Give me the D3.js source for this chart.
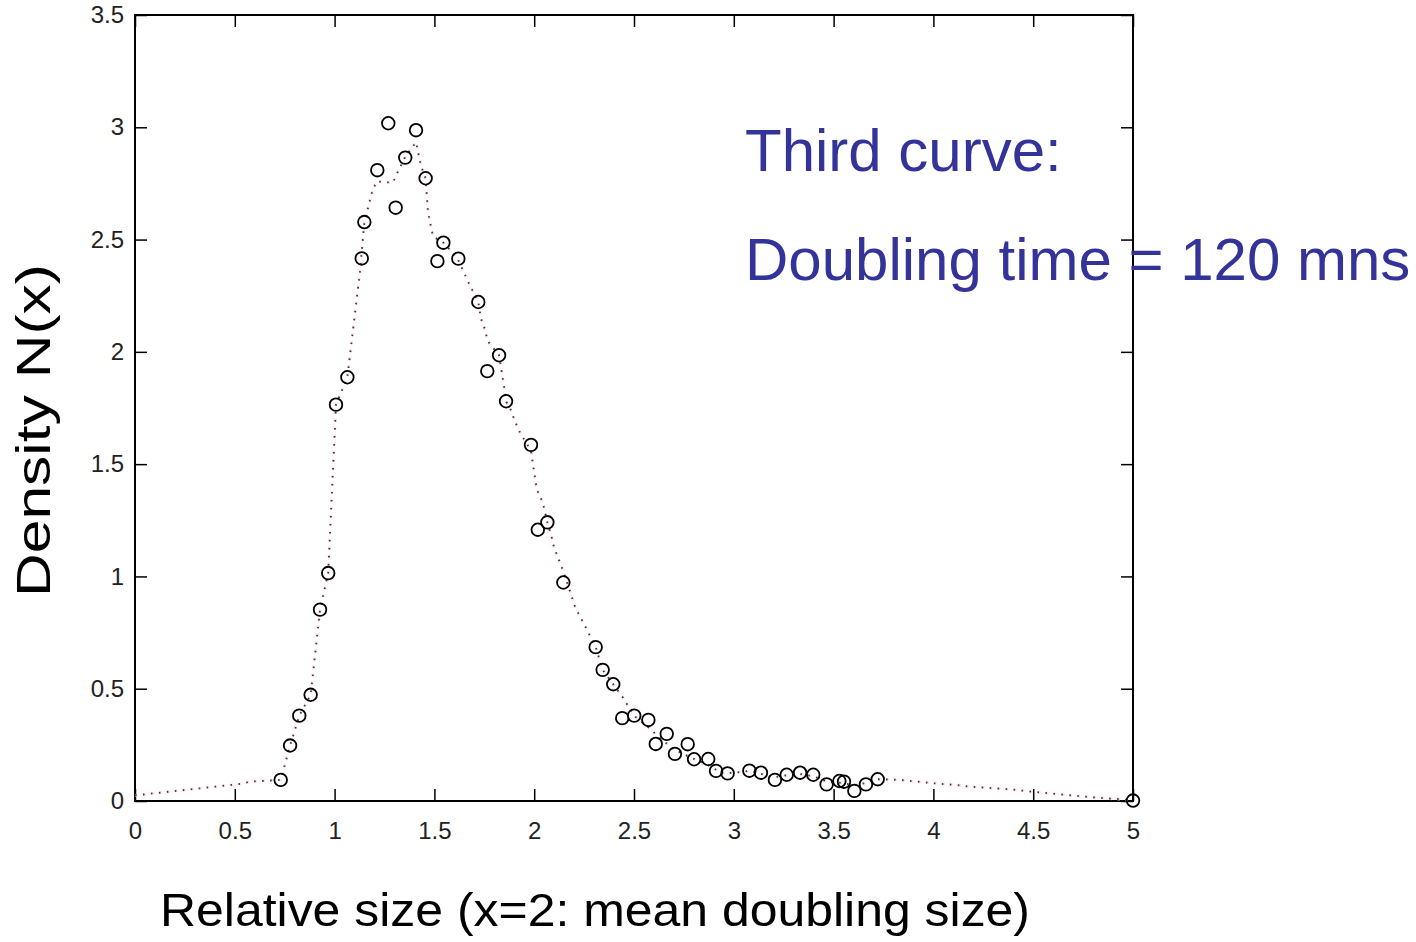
<!DOCTYPE html>
<html>
<head>
<meta charset="utf-8">
<script src="https://cdn.jsdelivr.net/npm/d3@7"></script>
<style>
  html, body { margin: 0; padding: 0; background: #fff; }
  svg { display: block; }
</style>
</head>
<body>
<svg id="chart" width="1416" height="942"></svg>
<script>
// Measured size distribution (open circles)
const sizeX = [0.73, 0.777, 0.823, 0.880, 0.927, 0.968, 1.007, 1.064, 1.136, 1.149,
  1.214, 1.269, 1.306, 1.354, 1.408, 1.456, 1.515, 1.545, 1.620, 1.720,
  1.765, 1.824, 1.859, 1.984, 2.018, 2.066, 2.146, 2.308, 2.343, 2.396,
  2.441, 2.501, 2.572, 2.609, 2.664, 2.705, 2.769, 2.801, 2.872, 2.911,
  2.969, 3.078, 3.136, 3.206, 3.265, 3.332, 3.398, 3.465, 3.529, 3.552,
  3.604, 3.662, 3.721, 5.0];
const density = [0.094, 0.247, 0.380, 0.473, 0.852, 1.015, 1.765, 1.887, 2.416, 2.578,
  2.809, 3.018, 2.642, 2.865, 2.987, 2.773, 2.404, 2.486, 2.415, 2.222,
  1.914, 1.985, 1.780, 1.586, 1.208, 1.241, 0.973, 0.685, 0.584, 0.520,
  0.369, 0.380, 0.361, 0.254, 0.299, 0.210, 0.253, 0.186, 0.187, 0.134,
  0.123, 0.135, 0.126, 0.094, 0.117, 0.126, 0.117, 0.074, 0.089, 0.086,
  0.045, 0.074, 0.097, 0.002];

// Smoothed density curve (dotted line)
const curveX = [0, 0.526, 0.576, 0.73, 0.777, 0.823, 0.880, 0.927, 0.968, 1.007,
  1.064, 1.110, 1.127, 1.149, 1.190, 1.212, 1.250, 1.293, 1.318, 1.353,
  1.408, 1.433, 1.456, 1.468, 1.493, 1.545, 1.613, 1.673, 1.720, 1.733,
  1.753, 1.767, 1.824, 1.850, 1.859, 1.882, 1.904, 1.929, 1.984, 2.013,
  2.043, 2.066, 2.087, 2.100, 2.124, 2.146, 2.184, 2.204, 2.229, 2.263,
  2.308, 2.343, 2.396, 2.445, 2.500, 2.570, 2.630, 2.700, 2.770, 2.870,
  2.940, 3.000, 3.080, 3.140, 3.200, 3.270, 3.330, 3.400, 3.470, 3.550,
  3.600, 3.660, 3.720, 3.833, 4.000, 4.117, 4.183, 4.383, 4.500, 4.634,
  4.800, 4.935, 5.0];
const curveY = [0.025, 0.076, 0.086, 0.094, 0.247, 0.380, 0.473, 0.852, 1.015, 1.765,
  1.887, 2.230, 2.354, 2.577, 2.720, 2.760, 2.755, 2.755, 2.804, 2.867,
  2.934, 2.827, 2.773, 2.621, 2.514, 2.486, 2.421, 2.305, 2.222, 2.149,
  2.100, 2.048, 1.985, 1.841, 1.780, 1.743, 1.690, 1.640, 1.560, 1.387,
  1.329, 1.241, 1.178, 1.127, 1.074, 1.022, 0.921, 0.866, 0.822, 0.765,
  0.686, 0.584, 0.520, 0.460, 0.380, 0.330, 0.280, 0.230, 0.200, 0.160,
  0.125, 0.125, 0.135, 0.120, 0.105, 0.115, 0.120, 0.110, 0.085, 0.080,
  0.070, 0.080, 0.097, 0.094, 0.079, 0.071, 0.064, 0.052, 0.041, 0.030,
  0.016, 0.008, 0.002];

const xTicks = [0, 0.5, 1, 1.5, 2, 2.5, 3, 3.5, 4, 4.5, 5];
const xTickLabels = ["0", "0.5", "1", "1.5", "2", "2.5", "3", "3.5", "4", "4.5", "5"];
const yTicks = [0, 0.5, 1, 1.5, 2, 2.5, 3, 3.5];
const yTickLabels = ["0", "0.5", "1", "1.5", "2", "2.5", "3", "3.5"];

const svg = d3.select("#chart");
const plotLeft = 135, plotRight = 1133, plotTop = 15, plotBottom = 801;

const x = d3.scaleLinear().domain([0, 5]).range([plotLeft, plotRight]);
const y = d3.scaleLinear().domain([0, 3.5]).range([plotBottom, plotTop]);

const tickFont = "'Liberation Sans Narrow', 'Liberation Sans', Arial, sans-serif";

function styleAxis(g) {
  g.select(".domain").remove();
  g.selectAll(".tick line").attr("stroke", "#000").attr("stroke-width", 1.5);
  g.selectAll(".tick text")
    .attr("fill", "#222")
    .style("font-family", tickFont)
    .style("font-size", "24px");
}

// bottom axis with labels
svg.append("g")
  .attr("transform", `translate(0,${plotBottom})`)
  .call(d3.axisBottom(x).tickValues(xTicks)
    .tickFormat((d, i) => xTickLabels[i])
    .tickSizeInner(-12).tickSizeOuter(0).tickPadding(21))
  .call(styleAxis);

// top axis (ticks only)
svg.append("g")
  .attr("transform", `translate(0,${plotTop})`)
  .call(d3.axisTop(x).tickValues(xTicks).tickFormat("")
    .tickSizeInner(-12).tickSizeOuter(0))
  .call(styleAxis);

// left axis with labels
svg.append("g")
  .attr("transform", `translate(${plotLeft},0)`)
  .call(d3.axisLeft(y).tickValues(yTicks)
    .tickFormat((d, i) => yTickLabels[i])
    .tickSizeInner(-12).tickSizeOuter(0).tickPadding(11))
  .call(styleAxis);

// right axis (ticks only)
svg.append("g")
  .attr("transform", `translate(${plotRight},0)`)
  .call(d3.axisRight(y).tickValues(yTicks).tickFormat("")
    .tickSizeInner(-12).tickSizeOuter(0))
  .call(styleAxis);

// plot frame
svg.append("rect")
  .attr("x", plotLeft).attr("y", plotTop)
  .attr("width", plotRight - plotLeft).attr("height", plotBottom - plotTop)
  .attr("fill", "none").attr("stroke", "#000").attr("stroke-width", 2);

// dotted density curve
const curvePts = curveX.map((v, i) => [v, curveY[i]]);
const line = d3.line().x(d => x(d[0])).y(d => y(d[1]));

svg.append("path")
  .datum(curvePts)
  .attr("d", line)
  .attr("fill", "none")
  .attr("stroke", "#f2d6d6")
  .attr("stroke-width", 3)
  .attr("stroke-dasharray", "3,5")
  .attr("opacity", 0.6);

svg.append("path")
  .datum(curvePts)
  .attr("d", line)
  .attr("fill", "none")
  .attr("stroke", "#5a2a2a")
  .attr("stroke-width", 1.8)
  .attr("stroke-dasharray", "1.6,6.4");

// measured points
svg.append("g")
  .selectAll("circle")
  .data(sizeX.map((v, i) => [v, density[i]]))
  .join("circle")
  .attr("cx", d => x(d[0]))
  .attr("cy", d => y(d[1]))
  .attr("r", 6.3)
  .attr("fill", "none")
  .attr("stroke", "#000")
  .attr("stroke-width", 1.8);

// axis titles
svg.append("text")
  .attr("x", 160).attr("y", 926)
  .attr("textLength", 870).attr("lengthAdjust", "spacingAndGlyphs")
  .style("font-family", "'Liberation Sans', Arial, sans-serif")
  .style("font-size", "47px")
  .attr("fill", "#000")
  .text("Relative size (x=2: mean doubling size)");

svg.append("text")
  .attr("transform", "translate(50,597) rotate(-90)")
  .attr("textLength", 333).attr("lengthAdjust", "spacingAndGlyphs")
  .style("font-family", "'Liberation Sans', Arial, sans-serif")
  .style("font-size", "49px")
  .attr("fill", "#000")
  .text("Density N(x)");

// annotation
const note = svg.append("g")
  .style("font-family", "'Liberation Sans', Arial, sans-serif")
  .style("font-size", "60px")
  .attr("fill", "#333399");
note.append("text").attr("x", 745).attr("y", 171).text("Third curve:");
note.append("text").attr("x", 745).attr("y", 280).text("Doubling time = 120 mns");
</script>
</body>
</html>
